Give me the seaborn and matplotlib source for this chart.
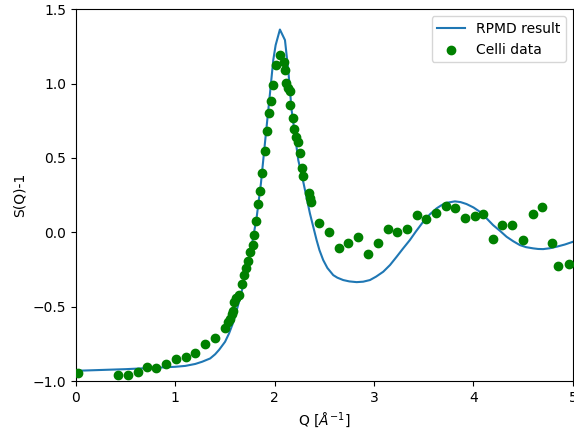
import matplotlib
matplotlib.use("Agg")
import matplotlib.pyplot as plt
import seaborn as sns

# RPMD result curve
rpmd_q = [0.0, 0.5, 1.0, 1.1, 1.2, 1.27, 1.35, 1.40, 1.44, 1.5, 1.54, 1.58, 1.61,
          1.66, 1.70, 1.76, 1.818, 1.861, 1.901, 1.952, 1.985, 2.009, 2.052, 2.103,
          2.136, 2.170, 2.237, 2.29, 2.354, 2.421, 2.45, 2.488, 2.53, 2.589, 2.63,
          2.689, 2.75, 2.824, 2.89, 2.958, 3.02, 3.092, 3.16, 3.226, 3.29, 3.360,
          3.42, 3.494, 3.56, 3.629, 3.68, 3.729, 3.813, 3.87, 3.930, 4.0, 4.064,
          4.13, 4.198, 4.27, 4.333, 4.40, 4.467, 4.53, 4.601, 4.65, 4.701, 4.77,
          4.836, 4.92, 5.0]
rpmd_s = [-0.931, -0.92, -0.904, -0.898, -0.885, -0.870, -0.848, -0.82, -0.79,
          -0.736, -0.68, -0.61, -0.54, -0.42, -0.30, -0.12, 0.10, 0.329, 0.597,
          0.933, 1.157, 1.258, 1.363, 1.292, 1.090, 0.821, 0.485, 0.33, 0.127,
          -0.052, -0.12, -0.187, -0.24, -0.288, -0.305, -0.321, -0.33, -0.335,
          -0.332, -0.321, -0.298, -0.265, -0.22, -0.165, -0.11, -0.052, 0.005,
          0.071, 0.12, 0.161, 0.183, 0.198, 0.208, 0.203, 0.190, 0.167, 0.138,
          0.095, 0.048, 0.008, -0.030, -0.06, -0.086, -0.10, -0.108, -0.112,
          -0.113, -0.107, -0.097, -0.082, -0.064]

# Celli experimental data
celli_q = [0.02, 0.42, 0.52, 0.62, 0.71, 0.81, 0.91, 1.01, 1.11, 1.20, 1.30, 1.40,
           1.50, 1.53, 1.55, 1.57, 1.58, 1.59, 1.61, 1.637, 1.67, 1.69, 1.71, 1.73,
           1.75, 1.78, 1.79, 1.81, 1.83, 1.85, 1.87, 1.90, 1.92, 1.94, 1.96, 1.985,
           2.01, 2.05, 2.09, 2.10, 2.11, 2.13, 2.15, 2.155, 2.18, 2.19, 2.21, 2.23,
           2.25, 2.27, 2.28, 2.34, 2.35, 2.36, 2.45, 2.55, 2.65, 2.74, 2.84, 2.94,
           3.04, 3.14, 3.23, 3.33, 3.43, 3.52, 3.62, 3.72, 3.81, 3.91, 4.02, 4.10,
           4.20, 4.29, 4.39, 4.50, 4.60, 4.69, 4.79, 4.85, 4.96]
celli_s = [-0.948, -0.962, -0.960, -0.938, -0.908, -0.915, -0.886, -0.850, -0.839,
           -0.810, -0.749, -0.709, -0.644, -0.601, -0.585, -0.550, -0.530, -0.467,
           -0.444, -0.422, -0.350, -0.286, -0.241, -0.194, -0.135, -0.088, -0.017,
           0.073, 0.187, 0.279, 0.400, 0.544, 0.682, 0.799, 0.880, 0.991, 1.124,
           1.191, 1.142, 1.090, 1.001, 0.967, 0.949, 0.857, 0.765, 0.696, 0.638,
           0.608, 0.530, 0.431, 0.376, 0.261, 0.228, 0.205, 0.060, -0.001, -0.104,
           -0.075, -0.034, -0.149, -0.075, 0.020, 0.003, 0.022, 0.116, 0.087, 0.127,
           0.178, 0.161, 0.093, 0.111, 0.124, -0.044, 0.048, 0.048, -0.054, 0.122,
           0.171, -0.071, -0.225, -0.214]

fig, ax = plt.subplots(figsize=(5.74, 4.36), dpi=100)
fig.subplots_adjust(left=0.1324, right=0.998, bottom=0.126, top=0.979)

sns.lineplot(x=rpmd_q, y=rpmd_s, ax=ax, color='#1f77b4', linewidth=1.5,
             label='RPMD result')
sns.scatterplot(x=celli_q, y=celli_s, ax=ax, color='green', edgecolor='green',
                linewidth=1, s=36, label='Celli data', zorder=3)

ax.set_xlim(0, 5)
ax.set_ylim(-1.0, 1.5)
ax.set_xlabel(r'Q [$\AA^{-1}$]')
ax.set_ylabel('S(Q)-1')
ax.legend(loc='upper right')

fig.savefig('out.png', dpi=100)
